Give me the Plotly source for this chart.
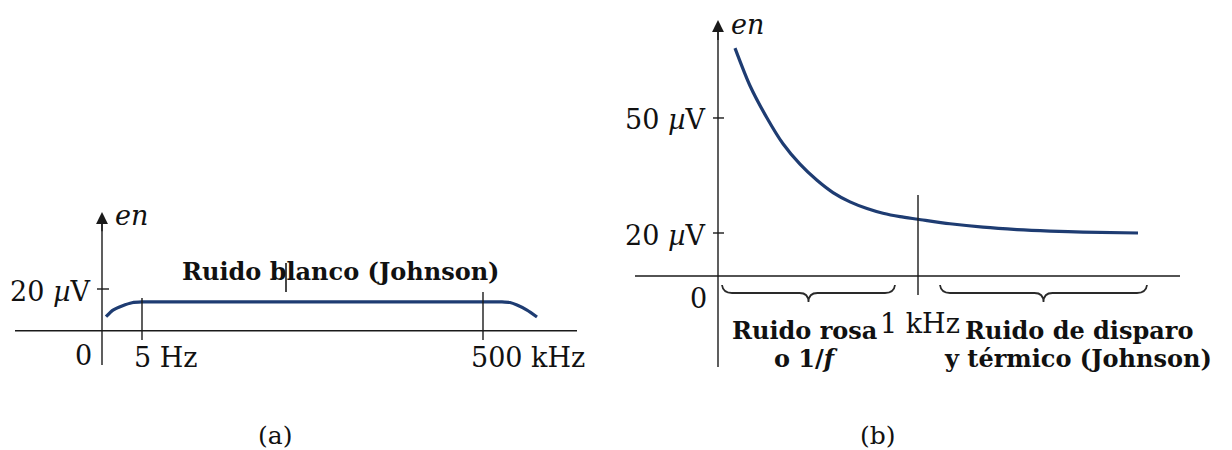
import plotly.graph_objects as go

# ---------------- data ----------------
# Panel (a): white (Johnson) noise, x in schematic frequency units, y in µV
A_X = [0.10, 0.275, 0.50, 0.75, 1.00, 3.00, 5.00, 7.00, 9.525, 10.00, 10.20, 10.375, 10.625, 10.875]
A_Y = [6.7, 9.9, 11.85, 13.4, 13.8, 13.8, 13.8, 13.8, 13.8, 13.8, 13.5, 12.3, 9.9, 6.6]
A_XTICK_VALS = [1.0, 9.525]
A_XTICK_TEXT = ["5 Hz", "500 kHz"]
A_YTICK_VALS = [20]
A_YTICK_TEXT = ["20 <i>µ</i>V"]

# Panel (b): pink (1/f) noise falling to shot/thermal floor
B_X = [0.34, 0.64, 0.98, 1.30, 1.64, 1.98, 2.30, 2.64, 2.98, 3.30, 3.64, 4.00, 4.64, 5.30, 5.98, 6.64, 7.30, 8.40]
B_Y = [106.0, 88.5, 73.5, 61.5, 52.0, 44.5, 38.8, 34.5, 31.4, 29.2, 27.6, 26.4, 24.3, 22.7, 21.6, 20.9, 20.4, 20.0]
B_XTICK_VALS = [4.0]
B_XTICK_TEXT = ["1 kHz"]
B_YTICK_VALS = [20, 73.5]
B_YTICK_TEXT = ["20 <i>µ</i>V", "50 <i>µ</i>V"]

# ---------------- layout scales ----------------
W, H = 1232, 450
A_PPX, A_OX = 40.0, 102.0     # px per x-unit, px of origin
A_PPY, A_OY = 2.085, 330.7    # px per µV, px of zero line
B_PPX, B_OX = 50.0, 718.0
B_PPY, B_OY = 2.15, 276.0
SPLIT = 616.0

FONT = "DejaVu Serif"
INK = "#1a1a1a"
CURVE = "#1e3c72"
REG = 27
BOLD = 24

def ax_range(ppx, ox, lo_px, hi_px):
    return [(lo_px - ox) / ppx, (hi_px - ox) / ppx]

def ay_range(ppy, oy):
    return [-(H - oy) / ppy, oy / ppy]

fig = go.Figure()
fig.add_trace(go.Scatter(x=A_X, y=A_Y, mode="lines", xaxis="x", yaxis="y",
                         line=dict(color=CURVE, width=3.2, shape="spline", smoothing=0.6),
                         hoverinfo="skip", showlegend=False))
fig.add_trace(go.Scatter(x=B_X, y=B_Y, mode="lines", xaxis="x2", yaxis="y2",
                         line=dict(color=CURVE, width=3.2, shape="spline", smoothing=0.8),
                         hoverinfo="skip", showlegend=False))

shapes = []
ann = []
LW = 1.4

def line(xr, yr, x0, y0, x1, y1, w=LW):
    shapes.append(dict(type="line", xref=xr, yref=yr, x0=x0, y0=y0, x1=x1, y1=y1,
                       line=dict(color=INK, width=w)))

def text(xr, yr, x, y, t, size, xanchor="center", xshift=0, yshift=0, bold=False, italic=False):
    if bold:
        t = "<b>" + t + "</b>"
    if italic:
        t = "<i>" + t + "</i>"
    ann.append(dict(xref=xr, yref=yr, x=x, y=y, text=t, showarrow=False,
                    xanchor=xanchor, yanchor="middle", xshift=xshift, yshift=yshift,
                    font=dict(family=FONT, size=size, color="#111")))

def arrow(xr, yr, x, y_tip, y_tail):
    ann.append(dict(xref=xr, yref=yr, axref=xr, ayref=yr, x=x, y=y_tip, ax=x, ay=y_tail,
                    text="", showarrow=True, arrowhead=2, arrowsize=1.7, arrowwidth=LW,
                    arrowcolor=INK, standoff=0))

# ---------- panel (a) ----------
a_tip = (A_OY - 212) / A_PPY
line("x", "y", (15 - A_OX) / A_PPX, 0, (577 - A_OX) / A_PPX, 0)          # frequency axis
line("x", "y", 0, (A_OY - 365) / A_PPY, 0, a_tip - 3)                    # e_n axis
arrow("x", "y", 0, a_tip, a_tip - 10)
for v in A_YTICK_VALS:
    shapes.append(dict(type="line", xref="x", yref="y", xsizemode="pixel", xanchor=0,
                       x0=-5, x1=7, y0=v, y1=v, line=dict(color=INK, width=LW)))
line("x", "y", A_XTICK_VALS[0], (A_OY - 340) / A_PPY, A_XTICK_VALS[0], (A_OY - 298) / A_PPY)
line("x", "y", A_XTICK_VALS[1], (A_OY - 340) / A_PPY, A_XTICK_VALS[1], (A_OY - 292) / A_PPY)
line("x", "y", (286 - A_OX) / A_PPX, (A_OY - 292) / A_PPY, (286 - A_OX) / A_PPX, (A_OY - 263) / A_PPY, w=1.6)

text("x", "y", A_XTICK_VALS[0], 0, A_XTICK_TEXT[0], REG, xanchor="left", xshift=-10, yshift=-27)
text("x", "y", A_XTICK_VALS[1], 0, A_XTICK_TEXT[1], REG, xanchor="left", xshift=-14, yshift=-27)
for v, t in zip(A_YTICK_VALS, A_YTICK_TEXT):
    text("x", "y", 0, v, t, REG, xanchor="right", xshift=-9, yshift=-2)
text("x", "y", 0, 0, "0", REG, xanchor="center", xshift=-19, yshift=-25)
text("x", "y", 0, a_tip, "e<i>n</i>", REG, xanchor="left", xshift=11, yshift=-3, italic=True)
text("x", "y", (340 - A_OX) / A_PPX, (A_OY - 271) / A_PPY, "Ruido blanco (Johnson)", BOLD, bold=True)
text("x", "y", (275 - A_OX) / A_PPX, (A_OY - 435) / A_PPY, "(a)", 25)

# ---------- panel (b) ----------
b_tip = (B_OY - 20) / B_PPY
line("x2", "y2", (635 - B_OX) / B_PPX, 0, (1180 - B_OX) / B_PPX, 0)
line("x2", "y2", 0, (B_OY - 367) / B_PPY, 0, b_tip - 3)
arrow("x2", "y2", 0, b_tip, b_tip - 10)
for v in B_YTICK_VALS:
    shapes.append(dict(type="line", xref="x2", yref="y2", xsizemode="pixel", xanchor=0,
                       x0=-5, x1=6, y0=v, y1=v, line=dict(color=INK, width=LW)))
line("x2", "y2", B_XTICK_VALS[0], (B_OY - 295) / B_PPY, B_XTICK_VALS[0], (B_OY - 195) / B_PPY)

def brace(x0px, x1px):
    def P(px, py):
        return f"{(px - B_OX) / B_PPX:.4f},{(B_OY - py) / B_PPY:.4f}"
    m = (x0px + x1px) / 2
    top, mid, tip = 285, 293, 302
    path = (f"M{P(x0px, top)} Q{P(x0px + 1, mid)} {P(x0px + 10, mid)} "
            f"L{P(m - 9, mid)} Q{P(m, mid)} {P(m, tip)} Q{P(m, mid)} {P(m + 9, mid)} "
            f"L{P(x1px - 10, mid)} Q{P(x1px - 1, mid)} {P(x1px, top)}")
    shapes.append(dict(type="path", xref="x2", yref="y2", path=path,
                       line=dict(color="#2a2a2a", width=1.8)))

brace(722, 895)
brace(940, 1147)

for v, t in zip(B_XTICK_VALS, B_XTICK_TEXT):
    text("x2", "y2", v, 0, t, REG, xanchor="center", xshift=2, yshift=-47)
for v, t in zip(B_YTICK_VALS, B_YTICK_TEXT):
    text("x2", "y2", 0, v, t, REG, xanchor="right", xshift=-10, yshift=-2)
text("x2", "y2", 0, 0, "0", REG, xanchor="center", xshift=-20, yshift=-22)
text("x2", "y2", 0, b_tip, "e<i>n</i>", REG, xanchor="left", xshift=11, yshift=-4, italic=True)
text("x2", "y2", (804 - B_OX) / B_PPX, (B_OY - 330) / B_PPY, "Ruido rosa", BOLD, bold=True)
text("x2", "y2", (806 - B_OX) / B_PPX, (B_OY - 358) / B_PPY, "o 1/<i>f</i>", BOLD, bold=True)
text("x2", "y2", (1079 - B_OX) / B_PPX, (B_OY - 330) / B_PPY, "Ruido de disparo", BOLD, bold=True)
text("x2", "y2", (1078 - B_OX) / B_PPX, (B_OY - 358) / B_PPY, "y térmico (Johnson)", BOLD, bold=True)
text("x2", "y2", (878 - B_OX) / B_PPX, (B_OY - 435) / B_PPY, "(b)", 25)

hidden = dict(visible=False, showgrid=False, zeroline=False, fixedrange=True)
fig.update_layout(
    width=W, height=H, margin=dict(l=0, r=0, t=0, b=0),
    paper_bgcolor="white", plot_bgcolor="white", showlegend=False,
    xaxis=dict(domain=[0, SPLIT / W], range=ax_range(A_PPX, A_OX, 0, SPLIT), **hidden),
    yaxis=dict(domain=[0, 1], range=ay_range(A_PPY, A_OY), anchor="x", **hidden),
    xaxis2=dict(domain=[SPLIT / W, 1], range=ax_range(B_PPX, B_OX, SPLIT, W), anchor="y2", **hidden),
    yaxis2=dict(domain=[0, 1], range=ay_range(B_PPY, B_OY), anchor="x2", **hidden),
    shapes=shapes, annotations=ann,
)

fig.write_html("out.html")
